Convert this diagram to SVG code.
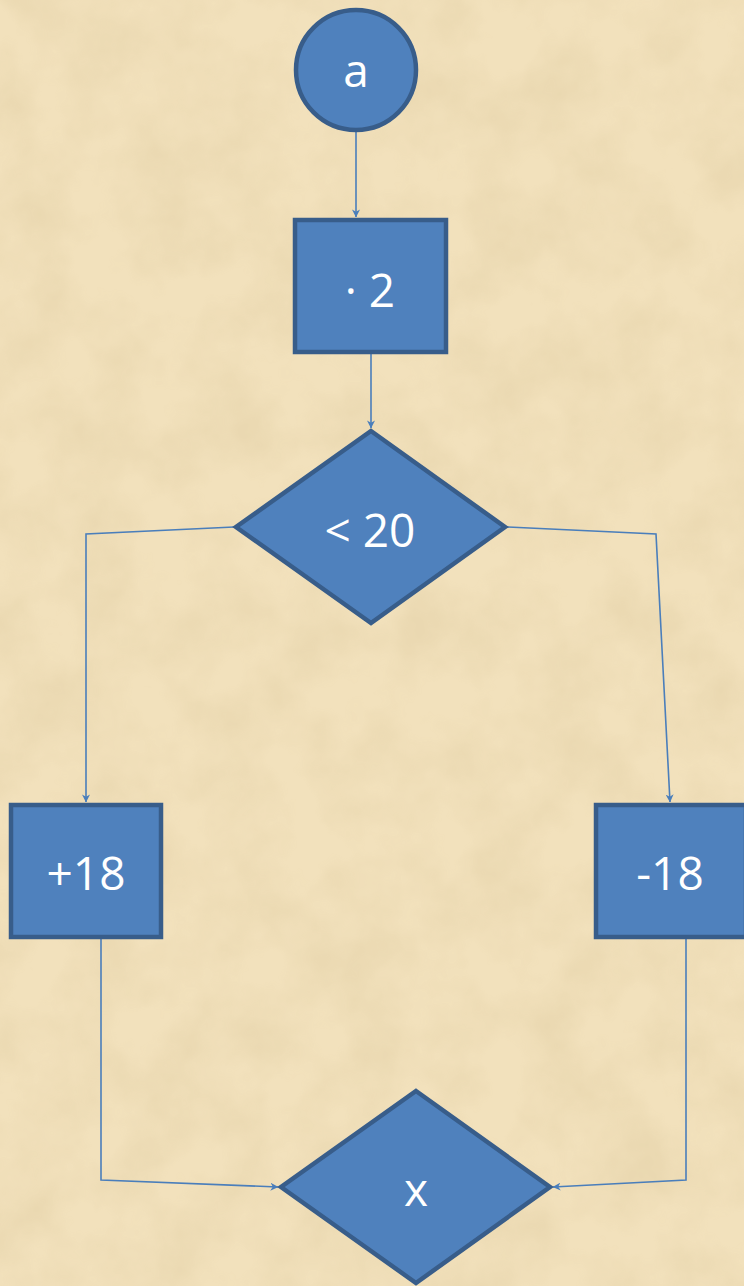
<svg xmlns="http://www.w3.org/2000/svg" width="744" height="1286" viewBox="0 0 744 1286">
<defs>
<filter id="paper" x="0" y="0" width="100%" height="100%">
<feTurbulence type="fractalNoise" baseFrequency="0.015" numOctaves="4" seed="7" result="n"/>
<feColorMatrix in="n" type="matrix" values="0 0 0 0 0.55  0 0 0 0 0.42  0 0 0 0 0.2  0 0 0 0.9 -0.3"/>
</filter>
<marker id="arr" viewBox="0 0 10 10" refX="9.5" refY="5" markerWidth="8" markerHeight="8" orient="auto" markerUnits="userSpaceOnUse">
<path d="M0,0 L10,5 L0,10 L3,5 Z" fill="#4A7EBB"/>
</marker>
<style>
.shape{fill:#4F81BD;stroke:#385D8A;stroke-width:4.5;stroke-linejoin:miter}
.lbl{font-family:"Open Sans","Liberation Sans",sans-serif;font-size:46px;fill:#FFFFFF;text-anchor:middle}
.conn{fill:none;stroke:#4A7EBB;stroke-width:1.6}
</style>
</defs>
<rect x="0" y="0" width="744" height="1286" fill="#F2E1BC"/>
<rect x="0" y="0" width="744" height="1286" filter="url(#paper)" opacity="0.35"/>
<g id="connectors">
<line class="conn" x1="356" y1="131" x2="356" y2="217" marker-end="url(#arr)"/>
<line class="conn" x1="371" y1="354" x2="371" y2="428" marker-end="url(#arr)"/>
<polyline class="conn" points="234,527 86,534 86,802" marker-end="url(#arr)"/>
<polyline class="conn" points="507,527 656,534 670,802" marker-end="url(#arr)"/>
<polyline class="conn" points="101,939 101,1180 278,1187" marker-end="url(#arr)"/>
<polyline class="conn" points="686,939 686,1180 553,1187" marker-end="url(#arr)"/>
</g>
<g id="node-a">
<circle class="shape" cx="356" cy="70" r="60"/>
<text class="lbl" x="356" y="87">a</text>
</g>
<g id="node-mul2">
<rect class="shape" x="295" y="220" width="151" height="132"/>
<text class="lbl" x="370" y="307">· 2</text>
</g>
<g id="node-lt20">
<polygon class="shape" points="371,431 505,527 371,623 236,527"/>
<text class="lbl" x="370" y="547">&lt; 20</text>
</g>
<g id="node-plus18">
<rect class="shape" x="11" y="805" width="150" height="132"/>
<text class="lbl" x="86" y="890">+18</text>
</g>
<g id="node-minus18">
<rect class="shape" x="596" y="805" width="150" height="132"/>
<text class="lbl" x="670" y="890">-18</text>
</g>
<g id="node-x">
<polygon class="shape" points="416,1091 550,1187 416,1283 281,1187"/>
<text class="lbl" x="416" y="1206">x</text>
</g>
</svg>
